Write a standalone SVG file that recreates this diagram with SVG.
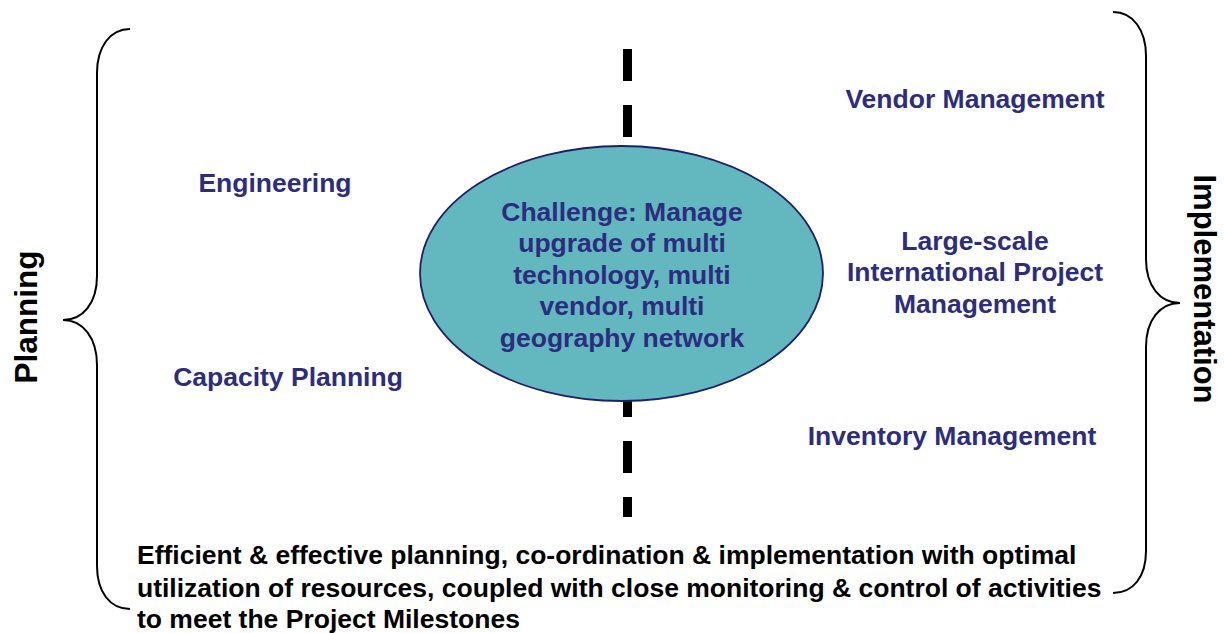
<svg xmlns="http://www.w3.org/2000/svg" width="1224" height="633" viewBox="0 0 1224 633">
<style>
.brace{fill:none;stroke:#000;stroke-width:2}
.blue{font-family:"Liberation Sans",Arial,sans-serif;font-weight:bold;font-size:26.5px;fill:#2D2D80;text-anchor:middle}
.blk{font-family:"Liberation Sans",Arial,sans-serif;font-weight:bold;fill:#000}
</style>
<rect width="1224" height="633" fill="#fff"/>
<g id="connectors">
<line x1="627.5" y1="49" x2="627.5" y2="517" stroke="#000" stroke-width="9" stroke-dasharray="32 24"/>
</g>
<g id="brace-left">
<path class="brace" d="M130,29 C110,29 97,47 97,73 L97,276 C97,303 83,320 63,320 C83,320 97,338 97,365 L97,566 C97,592 110,609 130,609"/>
</g>
<g id="brace-right">
<path class="brace" d="M1113,12 C1133,12 1146,30 1146,56 L1146,259 C1146,286 1160,303 1180,303 C1160,303 1146,320 1146,347 L1146,551 C1146,577 1133,593 1113,593"/>
</g>
<g id="planning">
<text class="blk" font-size="31.5" text-anchor="middle" transform="translate(37,317) rotate(-90)">Planning</text>
</g>
<g id="implementation">
<text class="blk" font-size="31" text-anchor="middle" transform="translate(1194,289) rotate(90)">Implementation</text>
</g>
<g id="challenge">
<ellipse cx="621.5" cy="273.5" rx="201.5" ry="127.5" fill="#63B7BE" stroke="#1F1F6A" stroke-width="1.8"/>
<text class="blue" x="622" y="221">Challenge: Manage</text>
<text class="blue" x="622" y="252">upgrade of multi</text>
<text class="blue" x="622" y="284">technology, multi</text>
<text class="blue" x="622" y="315">vendor, multi</text>
<text class="blue" x="622" y="347">geography network</text>
</g>
<g id="engineering"><text class="blue" x="275" y="192">Engineering</text></g>
<g id="capacity-planning"><text class="blue" x="288" y="386">Capacity Planning</text></g>
<g id="vendor-management"><text class="blue" x="975" y="108">Vendor Management</text></g>
<g id="project-management">
<text class="blue" x="975" y="250">Large-scale</text>
<text class="blue" x="975" y="281">International Project</text>
<text class="blue" x="975" y="313">Management</text>
</g>
<g id="inventory-management"><text class="blue" x="952" y="445">Inventory Management</text></g>
<g id="summary">
<text class="blk" font-size="26.5" x="137" y="564">Efficient &amp; effective planning, co-ordination &amp; implementation with optimal</text>
<text class="blk" font-size="26.5" x="137" y="597">utilization of resources, coupled with close monitoring &amp; control of activities</text>
<text class="blk" font-size="26.5" x="137" y="628">to meet the Project Milestones</text>
</g>
</svg>
